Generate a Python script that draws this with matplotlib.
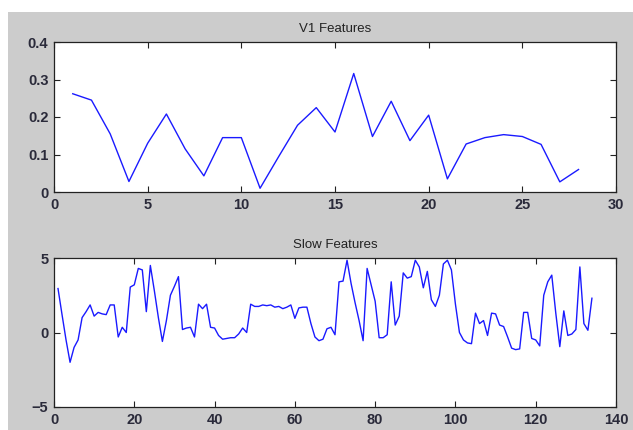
import matplotlib
matplotlib.use("Agg")
import matplotlib.pyplot as plt
from matplotlib.patches import Rectangle
import numpy as np

# V1 features (top panel), samples 1..28
v1_x = list(range(1, 29))
v1_values = [0.262, 0.245, 0.155, 0.028, 0.130, 0.208, 0.115, 0.043, 0.145, 0.145,
             0.010, 0.095, 0.178, 0.225, 0.160, 0.316, 0.148, 0.242, 0.137, 0.205,
             0.035, 0.128, 0.145, 0.153, 0.148, 0.127, 0.027, 0.060]

# slow features (bottom panel), samples 1..134
slow_x = list(range(1, 135))
slow_values = [2.95, 1.2, -0.5, -2.0, -1.0, -0.5, 1.0, 1.4, 1.85, 1.1,
               1.35, 1.25, 1.2, 1.85, 1.85, -0.3, 0.35, 0.0, 3.05, 3.2,
               4.3, 4.2, 1.4, 4.5, 2.8, 1.0, -0.6, 0.8, 2.5, 3.1,
               3.75, 0.2, 0.3, 0.35, -0.3, 1.9, 1.6, 1.9, 0.35, 0.3,
               -0.2, -0.45, -0.4, -0.35, -0.35, -0.1, 0.3, 0.0, 1.9, 1.75,
               1.75, 1.85, 1.8, 1.85, 1.7, 1.75, 1.6, 1.7, 1.85, 0.95,
               1.65, 1.7, 1.7, 0.6, -0.3, -0.55, -0.45, 0.25, 0.35, -0.15,
               3.4, 3.45, 4.85, 3.3, 2.0, 0.8, -0.55, 4.3, 3.2, 2.1,
               -0.35, -0.35, -0.15, 3.4, 0.5, 1.1, 4.0, 3.65, 3.75, 4.85,
               4.4, 3.0, 4.1, 2.2, 1.75, 2.5, 4.6, 4.85, 4.2, 1.9,
               0.0, -0.5, -0.7, -0.75, 1.3, 0.6, 0.8, -0.2, 1.3, 1.25,
               0.5, 0.4, -0.3, -1.05, -1.15, -1.1, 1.35, 1.35, -0.4, -0.5,
               -0.9, 2.5, 3.4, 3.85, 1.3, -0.95, 1.45, -0.2, -0.1, 0.2,
               4.4, 0.6, 0.15, 2.3]

fig = plt.figure(figsize=(6.33, 4.30), dpi=100, facecolor="white")
# grey MATLAB-style figure area (slightly inset from top-left), kept behind the axes
fig.patches.append(Rectangle((8 / 633, 0), 625 / 633, 418 / 430,
                             transform=fig.transFigure, facecolor="#cccccc",
                             edgecolor="none", zorder=-10))

left = 54 / 633
width = 562 / 633
ax1 = fig.add_axes([left, 1 - 192 / 430, width, 150 / 430])
ax2 = fig.add_axes([left, 1 - 407 / 430, width, 149 / 430])

ax1.plot(v1_x, v1_values, color="#1a1aff", lw=1.0)
ax1.set_xlim(0, 30)
ax1.set_ylim(0, 0.4)
ax1.set_xticks(range(0, 31, 5))
ax1.set_yticks([0, 0.1, 0.2, 0.3, 0.4])
ax1.set_yticklabels(["0", "0.1", "0.2", "0.3", "0.4"])
ax1.set_title("V1 Features", fontsize=9.5, family="Liberation Sans", color="#222222", pad=7)

ax2.plot(slow_x, slow_values, color="#1a1aff", lw=1.0)
ax2.set_xlim(0, 140)
ax2.set_ylim(-5, 5)
ax2.set_xticks(range(0, 141, 20))
ax2.set_yticks([-5, 0, 5])
ax2.set_title("Slow Features", fontsize=9.5, family="Liberation Sans", color="#222222", pad=7)

for ax in (ax1, ax2):
    ax.set_facecolor("white")
    for s in ax.spines.values():
        s.set_color("#222222")
        s.set_linewidth(0.9)
    ax.tick_params(direction="in", top=True, right=True, length=4, width=0.8,
                   color="#222222", labelsize=10.5, labelcolor="#2a2a3a", pad=4)
    for lab in ax.get_xticklabels() + ax.get_yticklabels():
        lab.set_family("Liberation Sans")
        lab.set_fontweight("bold")

fig.savefig("out.png", dpi=100, facecolor=fig.get_facecolor())
